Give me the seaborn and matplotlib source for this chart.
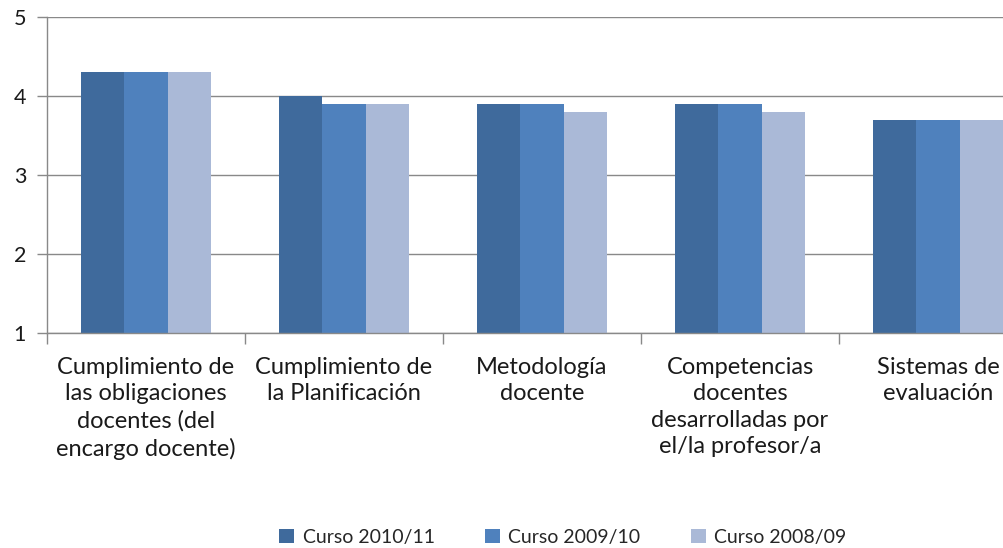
import matplotlib
matplotlib.use("Agg")
import matplotlib.pyplot as plt
import seaborn as sns
import pandas as pd
from matplotlib.ticker import FixedLocator

categories = [
    "Cumplimiento de\nlas obligaciones\ndocentes (del\nencargo docente)",
    "Cumplimiento de\nla Planificación",
    "Metodología\ndocente",
    "Competencias\ndocentes\ndesarrolladas por\nel/la profesor/a",
    "Sistemas de\nevaluación",
]
series = ["Curso 2010/11", "Curso 2009/10", "Curso 2008/09"]
v_2010 = [4.3, 4.0, 3.9, 3.9, 3.7]
v_2009 = [4.3, 3.9, 3.9, 3.9, 3.7]
v_2008 = [4.3, 3.9, 3.8, 3.8, 3.7]
colors = ["#3F6A9C", "#4F81BD", "#AAB9D7"]

rows = []
for s, vals in zip(series, [v_2010, v_2009, v_2008]):
    for c, v in zip(categories, vals):
        rows.append({"cat": c, "serie": s, "val": v})
df = pd.DataFrame(rows)

sns.set_theme(style="white")
plt.rcParams["font.family"] = ["Lato", "DejaVu Sans"]

fig = plt.figure(figsize=(10.04, 5.48), dpi=100)
ax = fig.add_axes([47/1004, 1-333/548, 1-47/1004, (333-17)/548])

sns.barplot(data=df, x="cat", y="val", hue="serie", palette=colors,
            width=0.66, gap=0, ax=ax, saturation=1, linewidth=0)
# bars rise from the axis baseline at 1
for p in ax.patches:
    h = p.get_height()
    if h:
        p.set_y(1)
        p.set_height(h - 1)

ax.set_ylim(1, 5)
ax.set_xlim(-0.5, (1004-47)/198 - 0.5)
ax.set_yticks([1, 2, 3, 4, 5])
ax.yaxis.grid(True, color="#898989", linewidth=1)
ax.set_axisbelow(True)
ax.set_xlabel("")
ax.set_ylabel("")
for side in ["top", "right"]:
    ax.spines[side].set_visible(False)
for side in ["left", "bottom"]:
    ax.spines[side].set_color("#898989")
    ax.spines[side].set_linewidth(1)

ax.tick_params(axis="y", length=7, color="#898989", width=1, labelsize=15.5, pad=8, labelcolor="#1a1a1a", left=True)
ax.tick_params(axis="x", which="major", length=0, labelsize=17, pad=17, labelcolor="#1a1a1a")
ax.xaxis.set_minor_locator(FixedLocator([i - 0.5 for i in range(6)]))
ax.tick_params(axis="x", which="minor", length=8, color="#898989", width=1, bottom=True)
for lbl in ax.get_xticklabels():
    lbl.set_linespacing(1.33)
    lbl.set_ha("center")

handles, labels = ax.get_legend_handles_labels()
ax.legend(handles, labels, loc="center", ncol=3,
          frameon=False, fontsize=14, handlelength=0.75, handleheight=0.75,
          handletextpad=0.45, columnspacing=2.6, borderaxespad=0,
          bbox_to_anchor=(563/1004, 1-537/548), bbox_transform=fig.transFigure)

fig.savefig("out.png", dpi=100)
